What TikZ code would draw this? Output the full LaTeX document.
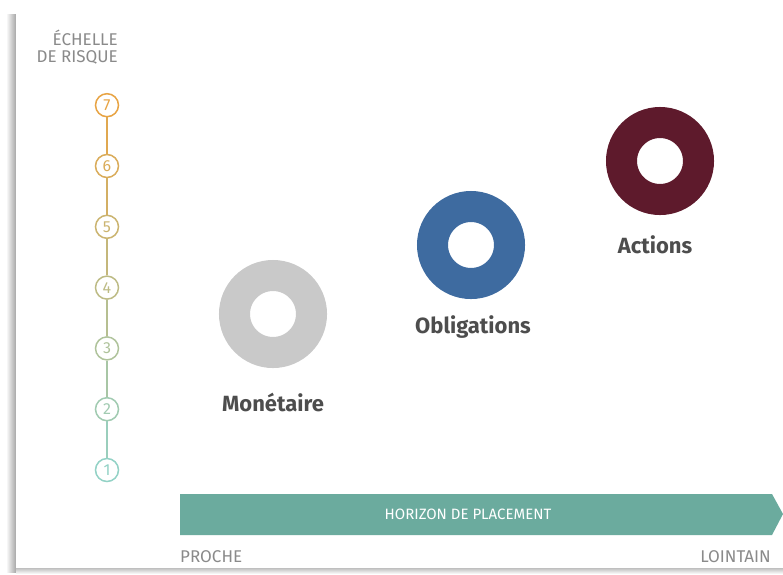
\documentclass[tikz,border=0pt]{standalone}
\usepackage{fontspec}
\setmainfont{Fira Sans}
\usetikzlibrary{positioning,shapes}
\definecolor{riskhigh}{HTML}{E8A444}
\definecolor{risklow}{HTML}{93D2C6}
\definecolor{textgray}{HTML}{8A8A8A}
\definecolor{labelgray}{HTML}{4D4D4D}
\definecolor{moncolor}{HTML}{C9C9C9}
\definecolor{oblcolor}{HTML}{3E6BA0}
\definecolor{actcolor}{HTML}{5E1A2C}
\definecolor{bandcolor}{HTML}{6BAB9E}

\begin{document}
\begin{tikzpicture}[x=1pt,y=-1pt,
		risk/.style={circle,draw,line width=1.5pt,minimum size=23pt,inner sep=0pt,font=\fontsize{16}{16}\selectfont},
		donut/.style={circle,draw,line width=31pt,minimum size=77pt,inner sep=0pt},
		assetlabel/.style={font=\fontsize{22}{22}\selectfont\bfseries,text=labelgray},
		smalllabel/.style={font=\fontsize{17}{17}\selectfont,text=textgray}]
		\useasboundingbox (0,0) rectangle (783,574);
		\fill [white] (0,0) rectangle (783,574);
		\shade [left color=white,right color=gray!70] (6,14) rectangle (16,572);
		\shade [top color=gray!50,bottom color=white] (16,568) rectangle (783,574);
		\fill [white] (16,12) rectangle (783,568);
		\node [smalllabel,align=right,anchor=north east,inner sep=0pt] (title) at (118,30) {ÉCHELLE\\DE RISQUE};
		\foreach \k in {1,...,7}{
			\pgfmathtruncatemacro{\mix}{(\k-1)*100/6}
			\colorlet{riskc}{riskhigh!\mix!risklow}
			\node [risk,draw=riskc,text=riskc] (r\k) at (107,{470-(\k-1)*60.8}) {\k};
		}
		\foreach \k [evaluate=\k as \n using int(\k+1)] in {1,...,6}{
			\pgfmathtruncatemacro{\mix}{(\k-0.5)*100/6}
			\draw [riskhigh!\mix!risklow,line width=1.5pt] (r\k) -- (r\n);
		}
		\node [donut,draw=moncolor] (mon) at (273,314) {};
		\node [donut,draw=oblcolor] (obl) at (471,245) {};
		\node [donut,draw=actcolor] (act) at (660,161) {};
		\node [assetlabel] (monlabel) at (273,402) {Monétaire};
		\node [assetlabel] (obllabel) at (473,327) {Obligations};
		\node [assetlabel] (actlabel) at (655,245) {Actions};
		\fill [bandcolor] (180,494) -- (772,494) -- (783,514) -- (772,535) -- (180,535) -- cycle;
		\node [font=\fontsize{15}{15}\selectfont,text=white] (horizon) at (468,514) {HORIZON DE PLACEMENT};
		\node [smalllabel,anchor=west,inner sep=0pt] (near) at (180,557) {PROCHE};
		\node [smalllabel,anchor=east,inner sep=0pt] (far) at (771,557) {LOINTAIN};
		\end{tikzpicture}
\end{document}
